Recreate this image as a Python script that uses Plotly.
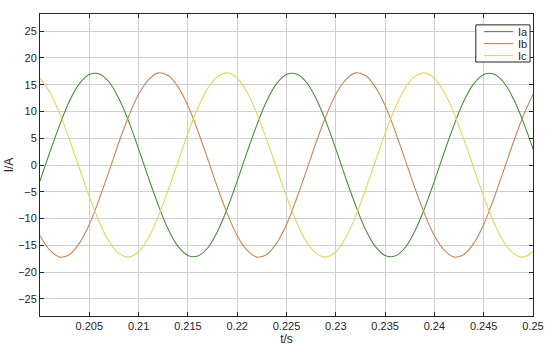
import plotly.graph_objects as go

# time axis, 1 ms samples from 0.200 s to 0.250 s
t = [round(0.2 + k * 0.001, 3) for k in range(51)]

# phase currents (A)
ia = [-3.0, 2.4, 7.5, 12.0, 15.2, 16.9, 17.0, 15.5, 12.4, 8.1,
      3.0, -2.4, -7.5, -12.0, -15.2, -16.9, -17.0, -15.5, -12.4, -8.1,
      -3.0, 2.4, 7.5, 12.0, 15.2, 16.9, 17.0, 15.5, 12.4, 8.1,
      3.0, -2.4, -7.5, -12.0, -15.2, -16.9, -17.0, -15.5, -12.4, -8.1,
      -3.0, 2.4, 7.5, 12.0, 15.2, 16.9, 17.0, 15.5, 12.4, 8.1, 3.0]
ib = [-13.2, -15.9, -17.2, -16.7, -14.6, -11.1, -6.4, -1.2, 4.2, 9.1,
      13.2, 15.9, 17.2, 16.7, 14.6, 11.1, 6.4, 1.2, -4.2, -9.1,
      -13.2, -15.9, -17.2, -16.7, -14.6, -11.1, -6.4, -1.2, 4.2, 9.1,
      13.2, 15.9, 17.2, 16.7, 14.6, 11.1, 6.4, 1.2, -4.2, -9.1,
      -13.2, -15.9, -17.2, -16.7, -14.6, -11.1, -6.4, -1.2, 4.2, 9.1, 13.2]
ic = [16.2, 13.6, 9.6, 4.7, -0.6, -5.9, -10.6, -14.3, -16.5, -17.2,
      -16.2, -13.6, -9.6, -4.7, 0.6, 5.9, 10.6, 14.3, 16.5, 17.2,
      16.2, 13.6, 9.6, 4.7, -0.6, -5.9, -10.6, -14.3, -16.5, -17.2,
      -16.2, -13.6, -9.6, -4.7, 0.6, 5.9, 10.6, 14.3, 16.5, 17.2,
      16.2, 13.6, 9.6, 4.7, -0.6, -5.9, -10.6, -14.3, -16.5, -17.2, -16.2]

x_ticks = [0.205, 0.21, 0.215, 0.22, 0.225, 0.23, 0.235, 0.24, 0.245, 0.25]
x_labels = ["0.205", "0.21", "0.215", "0.22", "0.225", "0.23", "0.235", "0.24", "0.245", "0.25"]
y_ticks = [-25, -20, -15, -10, -5, 0, 5, 10, 15, 20, 25]

names = ["Ia", "Ib", "Ic"]
colors = ["#4a8c3c", "#c4875a", "#e3d45c"]

fig = go.Figure()
for name, vals, col in zip(names, [ia, ib, ic], colors):
    fig.add_trace(go.Scatter(x=t, y=vals, mode="lines", name=name, showlegend=False,
                             line=dict(color=col, width=1.1, shape="spline")))

# compact MATLAB-style legend box (plotly's own legend rows are too tall)
fig.add_shape(type="rect", xref="paper", yref="paper",
              x0=0.884, x1=0.994, y0=0.841, y1=0.964,
              fillcolor="white", line=dict(color="#262626", width=1), layer="above")
for i, (name, col) in enumerate(zip(names, colors)):
    yy = 0.9417 - i * 0.0397
    fig.add_shape(type="line", xref="paper", yref="paper",
                  x0=0.9006, x1=0.9594, y0=yy, y1=yy,
                  line=dict(color=col, width=1.1), layer="above")
    fig.add_annotation(text=name, xref="paper", yref="paper", x=0.9655, y=yy,
                       xanchor="left", yanchor="middle", showarrow=False,
                       font=dict(size=11, color="#262626"))

axis_common = dict(
    showgrid=True, gridcolor="#d0d0d0", gridwidth=1,
    showline=True, linecolor="#262626", linewidth=1, mirror="ticks",
    ticks="inside", ticklen=4, tickcolor="#262626", automargin=False,
    zeroline=False, tickfont=dict(size=11, color="#262626"),
)

fig.update_xaxes(range=[0.2, 0.25], tickvals=x_ticks, ticktext=x_labels,
                 title=dict(text="t/s", font=dict(size=12, color="#262626"), standoff=3),
                 **axis_common)
fig.update_yaxes(range=[-28.2, 28.2], tickvals=y_ticks,
                 title=dict(text="I/A", font=dict(size=12, color="#262626"), standoff=1),
                 **axis_common)

fig.update_layout(
    width=550, height=354,
    margin=dict(l=40, r=17, t=14, b=38),
    paper_bgcolor="white", plot_bgcolor="white",
    font=dict(family="Liberation Sans, Arial, sans-serif", color="#262626"),
)

# drop the default page margin so the figure sits at the window's corner
fig.write_html("out.html", config={"displayModeBar": False},
               post_script="document.body.style.margin='0';")
